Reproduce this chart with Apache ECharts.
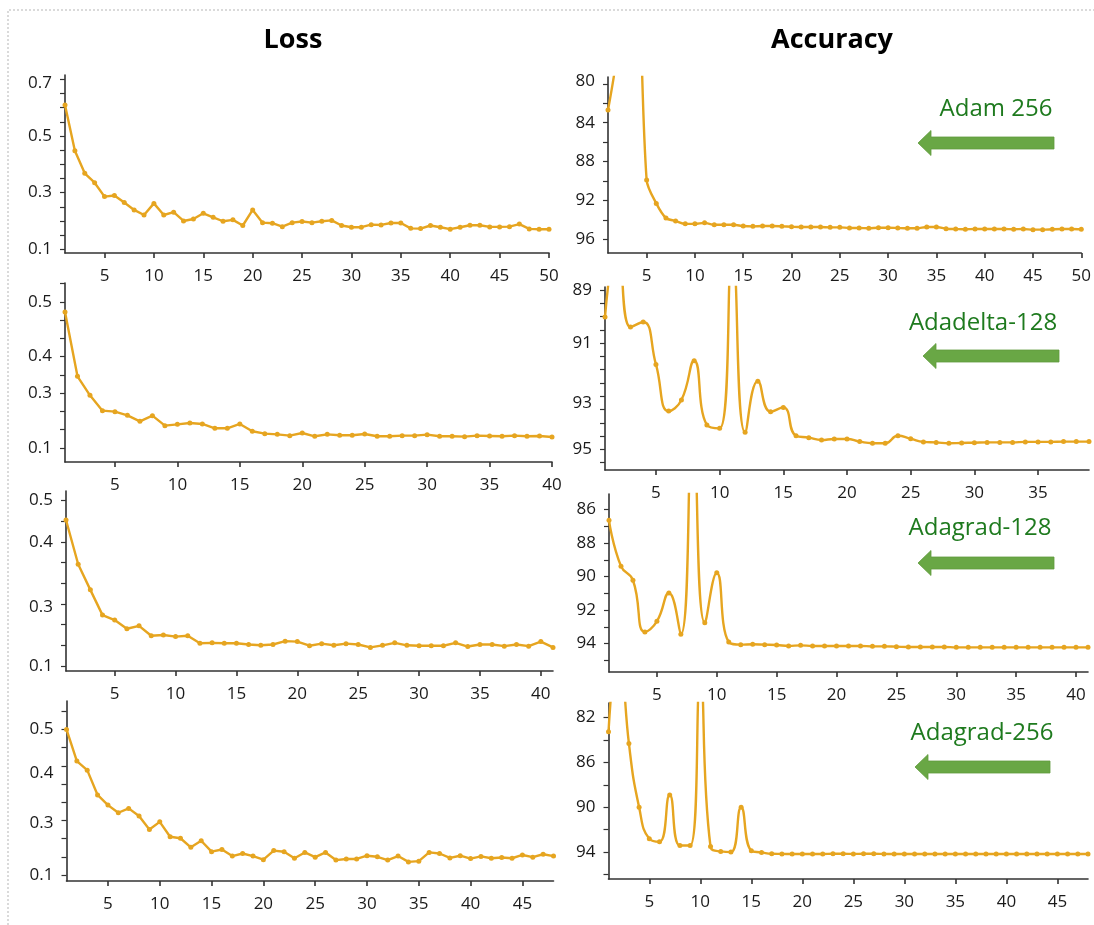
<!DOCTYPE html>
<html>
<head>
<meta charset="utf-8">
<script src="https://cdn.jsdelivr.net/npm/echarts@6/dist/echarts.min.js"></script>
<style>
html,body{margin:0;padding:0;background:#fff;}
#chart{width:1094px;height:925px;}
</style>
</head>
<body>
<div id="chart"></div>
<script>
// ---------- data ----------
const panelTitles = ['Loss', 'Accuracy'];
const optimizerNames = ['Adam 256', 'Adadelta-128', 'Adagrad-128', 'Adagrad-256'];

const lossAdam256 = [0.609,0.448,0.368,0.335,0.286,0.29,0.265,0.239,0.221,0.262,0.221,0.231,0.2,0.207,0.227,0.213,0.199,0.204,0.184,0.239,0.194,0.192,0.18,0.194,0.198,0.194,0.199,0.202,0.184,0.178,0.178,0.187,0.186,0.193,0.193,0.174,0.173,0.184,0.178,0.171,0.178,0.185,0.185,0.179,0.179,0.18,0.189,0.172,0.171,0.171];
const accAdam256 = [82.7,76.3,60,64.7,89.9,92.3,93.8,94.1,94.4,94.4,94.3,94.5,94.5,94.5,94.63,94.66,94.63,94.63,94.66,94.7,94.73,94.73,94.73,94.76,94.76,94.83,94.83,94.86,94.8,94.8,94.83,94.86,94.86,94.73,94.73,94.9,94.93,94.96,94.93,94.93,94.93,94.93,94.96,94.93,95.0,95.0,94.96,94.93,94.93,94.96];

const lossAdadelta128 = [0.4726,0.2963,0.2443,0.2023,0.1995,0.1895,0.1731,0.1886,0.1612,0.1648,0.1685,0.1658,0.1539,0.1539,0.1658,0.1457,0.1393,0.1374,0.1338,0.1411,0.132,0.1374,0.1347,0.1347,0.1384,0.132,0.132,0.1338,0.1338,0.1365,0.132,0.132,0.131,0.1338,0.1329,0.132,0.1338,0.132,0.1329,0.130];
const accAdadelta128 = [90.01,87,90.39,90.2,91.8,93.56,93.14,91.66,94.08,94.21,87.5,94.36,92.43,93.58,93.42,94.49,94.56,94.65,94.61,94.61,94.71,94.77,94.77,94.49,94.6,94.72,94.74,94.77,94.76,94.75,94.74,94.74,94.74,94.72,94.72,94.72,94.71,94.71,94.71];

const lossAdagrad128 = [0.453,0.346,0.284,0.223,0.211,0.190,0.197,0.173,0.175,0.171,0.173,0.155,0.156,0.155,0.155,0.152,0.150,0.152,0.160,0.159,0.149,0.154,0.150,0.154,0.152,0.145,0.150,0.156,0.150,0.149,0.149,0.149,0.156,0.147,0.152,0.152,0.148,0.152,0.148,0.159,0.145];
const accAdagrad128 = [86.65,89.38,90.22,93.3,92.67,90.98,93.44,81,92.75,89.78,93.9,94.06,94.04,94.06,94.08,94.14,94.1,94.14,94.14,94.14,94.14,94.14,94.16,94.16,94.18,94.2,94.2,94.2,94.2,94.22,94.22,94.22,94.22,94.22,94.22,94.22,94.22,94.22,94.22,94.22,94.22];

const lossAdagrad256 = [0.500,0.413,0.388,0.320,0.292,0.271,0.283,0.262,0.225,0.246,0.205,0.201,0.176,0.194,0.164,0.170,0.152,0.159,0.152,0.142,0.167,0.164,0.146,0.162,0.149,0.162,0.141,0.144,0.144,0.153,0.150,0.141,0.152,0.136,0.138,0.162,0.159,0.147,0.153,0.145,0.151,0.146,0.148,0.146,0.155,0.149,0.157,0.152];
const accAdagrad256 = [83.27,75,84.31,90.0,92.81,93.08,88.9,93.41,93.41,78.5,93.5,93.94,94.0,90.0,93.88,94.03,94.15,94.16,94.17,94.17,94.17,94.17,94.15,94.15,94.16,94.15,94.15,94.16,94.17,94.17,94.17,94.17,94.17,94.17,94.17,94.17,94.17,94.17,94.17,94.17,94.17,94.17,94.17,94.17,94.17,94.17,94.17,94.17];

// tick labels
const xLabels50 = [5,10,15,20,25,30,35,40,45,50];
const xLabels40 = [5,10,15,20,25,30,35,40];
const xLabels35 = [5,10,15,20,25,30,35];
const xLabels45 = [5,10,15,20,25,30,35,40,45];
const yLabelsLoss1 = [0.1,0.3,0.5,0.7];
const yLabelsLoss = [0.1,0.3,0.4,0.5];
const yLabelsAcc1 = [80,84,88,92,96];
const yLabelsAcc2 = [89,91,93,95];
const yLabelsAcc3 = [86,88,90,92,94];
const yLabelsAcc4 = [82,86,90,94];

// ---------- helpers ----------
function range(a, b, s){ const r=[]; for(let v=a; v<=b+1e-9; v+=s) r.push(Math.round(v*1000)/1000); return r; }
const LINE = '#E6A520';
const AX = '#333';
const FONT = 'Open Sans';

// label nudges (px, downward) reproducing the pasted tick labels of the source figure
const panels = [
  {grid:{left:65, top:75, width:484, height:178}, xMax:50, xl:xLabels50, yMin:0.087, yMax:0.715, yl:yLabelsLoss1, yt:range(0.1,0.7,0.05), inv:false, data:lossAdam256, smooth:false, shift:{'0.7':4}},
  {grid:{left:65, top:283, width:487, height:179}, xMax:40, xl:xLabels40, yMin:0.0616, yMax:0.552, yl:yLabelsLoss, yt:range(0.1,0.55,0.05), inv:false, data:lossAdadelta128, smooth:false, shift:{'0.4':18,'0.3':18}},
  {grid:{left:66, top:491, width:487, height:180}, xMax:41, xl:xLabels40, yMin:0.0879, yMax:0.523, yl:yLabelsLoss, yt:range(0.1,0.5,0.05), inv:false, data:lossAdagrad128, smooth:false, shift:{'0.3':24}},
  {grid:{left:66.5, top:701, width:487, height:180}, xMax:48, xl:xLabels45, yMin:0.0835, yMax:0.578, yl:yLabelsLoss, yt:range(0.1,0.55,0.05), inv:false, data:lossAdagrad256, smooth:false, shift:{'0.4':7,'0.3':21}},
  {grid:{left:608, top:77, width:475, height:176}, xMax:50, xl:xLabels50, yMin:79.3, yMax:97.4, yl:yLabelsAcc1, yt:range(80,96,2), inv:true, data:accAdam256, smooth:0.3, shift:{'80':-3}},
  {grid:{left:605, top:287, width:484, height:183}, xMax:39, xl:xLabels35, yMin:88.88, yMax:95.78, yl:yLabelsAcc2, yt:range(89,95.5,0.5), inv:true, data:accAdadelta128, smooth:0.5, shift:{'93':7}},
  {grid:{left:609, top:494, width:479, height:178}, xMax:41, xl:xLabels40, yMin:85.08, yMax:95.69, yl:yLabelsAcc3, yt:range(86,95,1), inv:true, data:accAdagrad128, smooth:0.5, shift:{}},
  {grid:{left:608.5, top:703, width:479.5, height:176}, xMax:48, xl:xLabels45, yMin:80.7, yMax:96.4, yl:yLabelsAcc4, yt:range(82,96,2), inv:true, data:accAdagrad256, smooth:0.5, shift:{}}
];

const grids=[], xAxes=[], yAxes=[], series=[];
panels.forEach((p,i)=>{
  grids.push(Object.assign({containLabel:false}, p.grid));
  xAxes.push({
    type:'value', gridIndex:i, min:1, max:p.xMax,
    axisLine:{show:true, onZero:false, lineStyle:{color:AX, width:1.6}},
    axisTick:{show:true, length:5, inside:false, customValues:p.xl, lineStyle:{color:AX, width:1.6}},
    axisLabel:{show:true, customValues:p.xl, margin:15, fontSize:17, color:'#1a1a1a', fontFamily:FONT},
    splitLine:{show:false}
  });
  const rich = {};
  Object.keys(p.shift).forEach((k,j)=>{
    const d = p.shift[k];
    rich['s'+j] = {fontSize:17, fontFamily:FONT, color:'#1a1a1a', padding: d>0 ? [2*d,0,0,0] : [0,0,-2*d,0]};
  });
  const keys = Object.keys(p.shift);
  yAxes.push({
    type:'value', gridIndex:i, min:p.yMin, max:p.yMax, inverse:p.inv,
    axisLine:{show:true, onZero:false, lineStyle:{color:AX, width:1.6}},
    axisTick:{show:true, length:5, customValues:p.yt, lineStyle:{color:AX, width:1.2}},
    axisLabel:{show:true, customValues:p.yl, margin:13, fontSize:17, color:'#1a1a1a', fontFamily:FONT,
      rich:rich,
      formatter:function(v){
        const s = String(Math.round(v*1000)/1000);
        const j = keys.indexOf(s);
        return j>=0 ? '{s'+j+'|'+s+'}' : s;
      }},
    splitLine:{show:false}
  });
  series.push({
    type:'line', xAxisIndex:i, yAxisIndex:i,
    data:p.data.map((v,j)=>[j+1,v]),
    smooth:p.smooth, clip:true,
    symbol:'circle', symbolSize:5, showAllSymbol:true,
    lineStyle:{color:LINE, width:2.4},
    itemStyle:{color:LINE},
    emphasis:{disabled:true}
  });
});

// annotations (optimizer label + arrow) in accuracy column
const annot = [
  {tx:996, ty:109, ax1:918, ax2:1054, ay:143},
  {tx:983, ty:323, ax1:923, ax2:1059, ay:356},
  {tx:980, ty:528, ax1:918, ax2:1054, ay:563},
  {tx:982, ty:733, ax1:915, ax2:1050, ay:767}
];
const graphics = [
  {type:'polyline', shape:{points:[[8,925],[8,10],[1094,10]]}, style:{stroke:'#b5b5b5', lineWidth:1, lineDash:[2,2], fill:null}},
  {type:'text', x:293, y:40, style:{text:panelTitles[0], font:'bold 27px "Open Sans"', fill:'#000', textAlign:'center', textVerticalAlign:'middle'}},
  {type:'text', x:832, y:40, style:{text:panelTitles[1], font:'bold 27px "Open Sans"', fill:'#000', textAlign:'center', textVerticalAlign:'middle'}}
];
annot.forEach((a,i)=>{
  graphics.push({type:'text', x:a.tx, y:a.ty, style:{text:optimizerNames[i], font:'24px "Open Sans"', fill:'#1E7A1E', textAlign:'center', textVerticalAlign:'middle'}});
  const hl=13, sh=6, hh=12.5;
  graphics.push({type:'polygon', shape:{points:[
    [a.ax1, a.ay], [a.ax1+hl, a.ay-hh], [a.ax1+hl, a.ay-sh], [a.ax2, a.ay-sh],
    [a.ax2, a.ay+sh], [a.ax1+hl, a.ay+sh], [a.ax1+hl, a.ay+hh]
  ]}, style:{fill:'#69A745', stroke:'#5f9a3c', lineWidth:0.8}});
});

const chart = echarts.init(document.getElementById('chart'), null, {renderer:'canvas'});
chart.setOption({
  animation:false,
  backgroundColor:'#ffffff',
  grid:grids, xAxis:xAxes, yAxis:yAxes, series:series,
  graphic:graphics
});
</script>
</body>
</html>
